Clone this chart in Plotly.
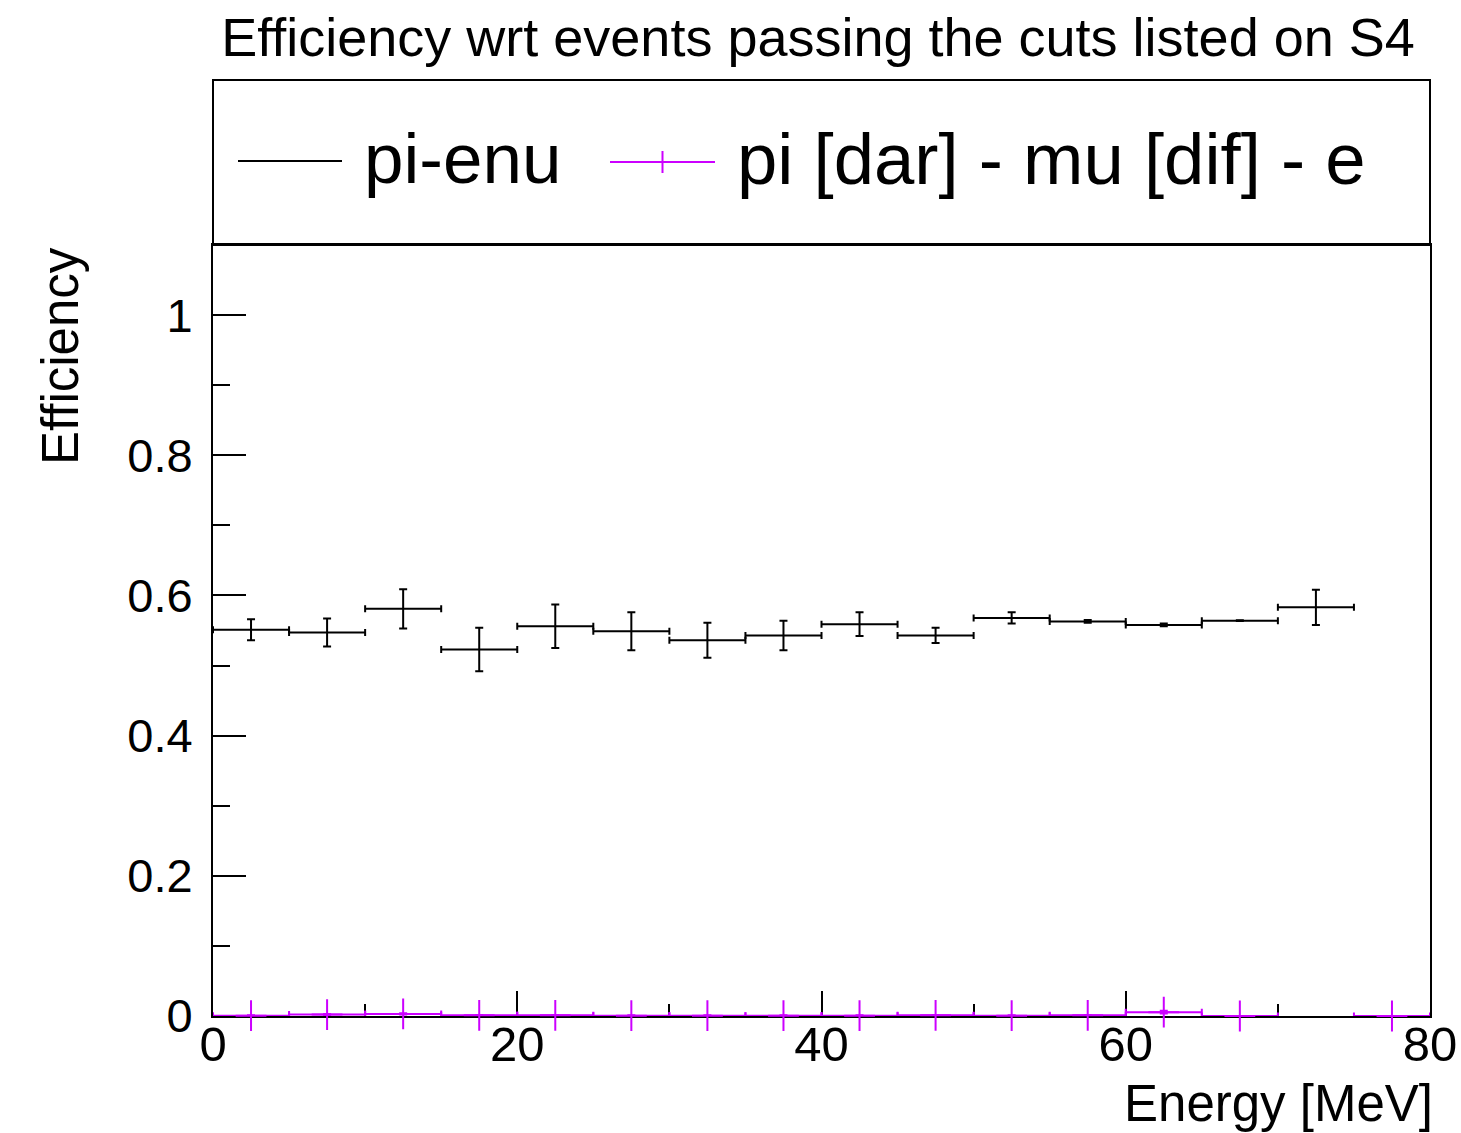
import plotly.graph_objects as go

# Energy binning (MeV): 16 bins of 5 MeV between 0 and 80
bin_centers = [2.5, 7.5, 12.5, 17.5, 22.5, 27.5, 32.5, 37.5,
               42.5, 47.5, 52.5, 57.5, 62.5, 67.5, 72.5, 77.5]
bin_half_width = 2.5

# pi -> e nu efficiency and its uncertainty (last bin empty)
eff_pienu = [0.551, 0.547, 0.581, 0.523, 0.556, 0.549, 0.536, 0.543,
             0.559, 0.543, 0.568, 0.563, 0.558, 0.564, 0.583, None]
err_pienu = [0.015, 0.020, 0.028, 0.031, 0.031, 0.027, 0.025, 0.021,
             0.017, 0.011, 0.008, 0.002, 0.002, 0.0005, 0.025, None]

# pi [dar] - mu [dif] - e efficiency and its uncertainty (bin 70-75 empty)
eff_dif = [0.0005, 0.002, 0.003, 0.001, 0.001, 0.0005, 0.0005, 0.0005,
           0.0005, 0.001, 0.0005, 0.001, 0.0055, 0.0, None, 0.0]
err_dif = [0.0005, 0.001, 0.001, 0.0005, 0.0005, 0.0005, 0.0005, 0.0005,
           0.0005, 0.0005, 0.0005, 0.0005, 0.002, 0.0, None, 0.0]

title_text = "Efficiency wrt events passing the cuts listed on S4"
x_title = "Energy [MeV]"
y_title = "Efficiency"
legend_labels = ["pi-enu", "pi [dar] - mu [dif] - e"]

BLACK = "#000000"
VIOLET = "#cc00ff"
FONT = "Liberation Sans"

W, H = 1461, 1133
L, R, T, B = 213, 1430, 245, 1016  # plot area in pixels


def px(xp):
    return (xp - L) / (R - L)


def py(yp):
    return (B - yp) / (B - T)


def half_widths(vals):
    return [bin_half_width if v is not None else None for v in vals]


fig = go.Figure()

fig.add_trace(go.Scatter(
    x=bin_centers, y=eff_pienu, mode="markers",
    marker=dict(size=0.1, color=BLACK),
    error_y=dict(type="data", array=err_pienu, color=BLACK, thickness=2, width=4),
    error_x=dict(type="data", array=half_widths(eff_pienu), color=BLACK, thickness=2, width=3.5),
    showlegend=False, cliponaxis=False,
))

fig.add_trace(go.Scatter(
    x=bin_centers, y=eff_dif, mode="markers",
    marker=dict(symbol="cross-thin", size=22, color=VIOLET, line=dict(color=VIOLET, width=2)),
    error_y=dict(type="data", array=err_dif, color=VIOLET, thickness=2, width=4),
    error_x=dict(type="data", array=half_widths(eff_dif), color=VIOLET, thickness=2, width=3.5),
    showlegend=False, cliponaxis=False,
))

shapes = []
# legend box above the frame
shapes.append(dict(type="rect", xref="paper", yref="paper",
                   x0=0, x1=1, y0=1, y1=py(80),
                   line=dict(color=BLACK, width=2), fillcolor="rgba(0,0,0,0)"))
# legend key: pi-enu
shapes.append(dict(type="line", xref="paper", yref="paper",
                   x0=px(238), x1=px(342), y0=py(161), y1=py(161),
                   line=dict(color=BLACK, width=2)))
# legend key: violet line with a plus marker
shapes.append(dict(type="line", xref="paper", yref="paper",
                   x0=px(610), x1=px(715), y0=py(162), y1=py(162),
                   line=dict(color=VIOLET, width=2)))
shapes.append(dict(type="line", xref="paper", yref="paper",
                   x0=px(662.5), x1=px(662.5), y0=py(151), y1=py(173),
                   line=dict(color=VIOLET, width=2)))

annotations = [
    dict(text=legend_labels[0], xref="paper", yref="paper", x=px(362), y=py(159),
         xanchor="left", yanchor="middle", showarrow=False,
         font=dict(family=FONT, size=71, color=BLACK)),
    dict(text=legend_labels[1], xref="paper", yref="paper", x=px(735), y=py(159),
         xanchor="left", yanchor="middle", showarrow=False,
         font=dict(family=FONT, size=72.5, color=BLACK)),
    dict(text=y_title, xref="paper", yref="paper", x=px(60), y=1.0,
         xanchor="center", yanchor="top", textangle=-90, showarrow=False,
         font=dict(family=FONT, size=51, color=BLACK)),
    dict(text=x_title, xref="paper", yref="paper", x=px(1435), y=py(1103),
         xanchor="right", yanchor="middle", showarrow=False,
         font=dict(family=FONT, size=51, color=BLACK)),
]

fig.update_layout(
    width=W, height=H,
    margin=dict(l=L, r=W - R, t=T, b=H - B, pad=0, autoexpand=False),
    paper_bgcolor="white", plot_bgcolor="white",
    title=dict(text=title_text, x=818 / W, y=1 - 37 / H,
               xanchor="center", yanchor="middle",
               font=dict(family=FONT, size=54, color=BLACK)),
    shapes=shapes, annotations=annotations,
    showlegend=False,
)

fig.update_xaxes(
    range=[0, 80], tickmode="array", tickvals=[0, 20, 40, 60, 80],
    ticks="inside", ticklen=25, tickwidth=2, tickcolor=BLACK,
    minor=dict(tickmode="linear", tick0=0, dtick=10, ticks="inside",
               ticklen=12, tickwidth=2, tickcolor=BLACK),
    showline=True, linecolor=BLACK, linewidth=2, mirror=True,
    showgrid=False, zeroline=False, automargin=False,
    layer="below traces",
    ticklabeloverflow="allow",
    tickfont=dict(family=FONT, size=49, color=BLACK),
    ticklabelstandoff=-16,
)
fig.update_yaxes(
    range=[0, 1.1], tickmode="array", tickvals=[0, 0.2, 0.4, 0.6, 0.8, 1],
    ticktext=["0", "0.2", "0.4", "0.6", "0.8", "1"],
    ticks="inside", ticklen=33, tickwidth=2, tickcolor=BLACK,
    minor=dict(tickmode="linear", tick0=0, dtick=0.1, ticks="inside",
               ticklen=17, tickwidth=2, tickcolor=BLACK),
    showline=True, linecolor=BLACK, linewidth=2, mirror=True,
    showgrid=False, zeroline=False, automargin=False,
    layer="below traces",
    tickfont=dict(family=FONT, size=47, color=BLACK),
    ticklabelstandoff=9,
)

fig.write_html("out.html")
